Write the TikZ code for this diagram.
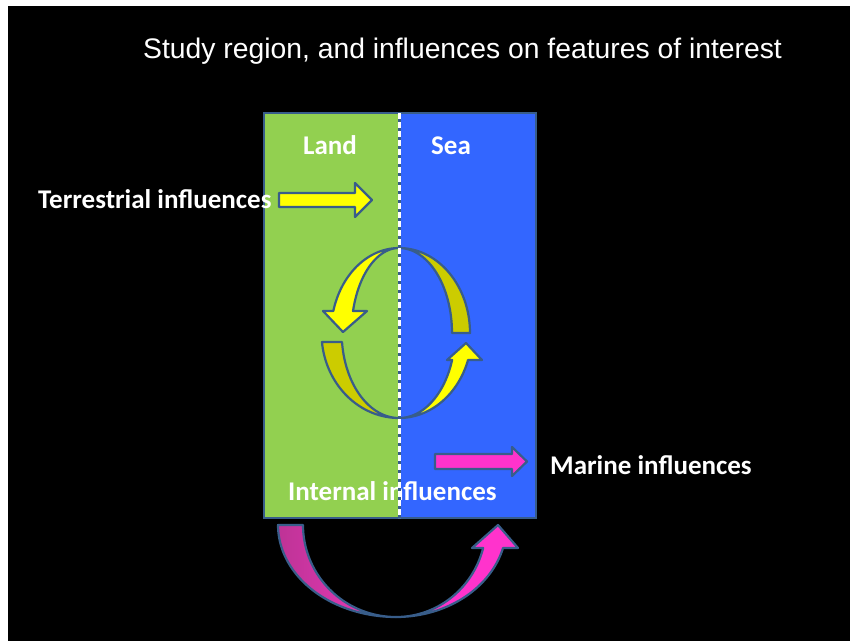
\documentclass[tikz,border=0pt]{standalone}
\usepackage{fontspec}
\setmainfont{Liberation Sans}
\newfontfamily\calfont{Carlito}
\definecolor{landgreen}{HTML}{92D050}
\definecolor{seablue}{HTML}{3366FF}
\definecolor{outl}{HTML}{385D8A}
\definecolor{yel}{HTML}{FFFF00}
\definecolor{darkyel}{HTML}{CCCC00}
\definecolor{mag}{HTML}{FF33CC}
\definecolor{magdark}{HTML}{BE3396}
\definecolor{magmid}{HTML}{EE3ABE}
\begin{document}
\begin{tikzpicture}[x=1pt,y=-1pt,
  shapeline/.style={draw=outl, line width=2.2pt, line join=round},
  frontyel/.style={shapeline, fill=yel},
  backyel/.style={shapeline, fill=darkyel},
  lbl/.style={anchor=base west, inner sep=0pt, text=white, font=\calfont\bfseries\fontsize{27}{32}\selectfont},
  titletext/.style={anchor=base west, inner sep=0pt, text=white, font=\fontsize{28.3}{34}\selectfont}]
\useasboundingbox (0,0) rectangle (850,641);
% background
\fill[white] (0,0) rectangle (850,641);
\fill[black] (8,6) rectangle (850,641);
% title
\node[titletext] (title) at (143,58) {Study region, and influences on features of interest};
% study region
\fill[landgreen] (264,113) rectangle (399,518);
\fill[seablue] (399,113) rectangle (536,518);
\draw[draw=outl, line width=1.5pt] (264,113) rectangle (536,518);
\coordinate (divtop) at (399,113);
\coordinate (divbot) at (399,518);
% labels
\node[lbl] (land) at (303,154) {Land};
\node[lbl] (sea) at (431,154) {Sea};
\node[lbl] (terr) at (38,208) {Terrestrial influences};
\node[lbl] (marine) at (550,474) {Marine influences};
\node[lbl] (internal) at (288,500) {Internal influences};
% terrestrial arrow
\filldraw[frontyel] (279,193) -- (355,193) -- (355,183) -- (372,200) -- (355,217) -- (355,207) -- (279,207) -- cycle;
% marine arrow
\filldraw[shapeline, fill=mag] (435,454) -- (512,454) -- (512,447) -- (527,461.5) -- (512,476) -- (512,469) -- (435,469) -- cycle;
% circular arrows: upper shape
\filldraw[backyel] plot[domain=-90:0,samples=40] ({399+71*cos(\x)},{333+85*sin(\x)})
   -- plot[domain=0:-90,samples=40] ({399+53*cos(\x)},{333+85*sin(\x)}) -- cycle;
\filldraw[frontyel] plot[domain=-90:-165,samples=40] ({399+68*cos(\x)},{333+85*sin(\x)})
   -- (323,311) -- (343,332) -- (367,311)
   -- plot[domain=-165:-90,samples=40] ({399+47.6*cos(\x)},{333+85*sin(\x)}) -- cycle;
% circular arrows: lower shape
\filldraw[backyel] plot[domain=90:173.9,samples=40] ({399+77.5*cos(\x)},{333+85*sin(\x)})
   -- plot[domain=173.9:90,samples=40] ({399+57.3*cos(\x)},{333+85*sin(\x)}) -- cycle;
\filldraw[frontyel] plot[domain=90:18.5,samples=40] ({399+72.8*cos(\x)},{333+85*sin(\x)})
   -- (482,360) -- (466,343) -- (447,360)
   -- plot[domain=18.5:90,samples=40] ({399+56*cos(\x)},{333+85*sin(\x)}) -- cycle;
% internal influences curved arrow (below the box)
\path[shapeline, left color=magdark, right color=magmid]
   plot[domain=180:90,samples=50] ({396+118*cos(\x)},{525+92*sin(\x)})
   -- plot[domain=90:180,samples=50] ({396+93*cos(\x)},{525+92*sin(\x)}) -- cycle;
\filldraw[shapeline, fill=mag] plot[domain=90:14.48,samples=50] ({396+110.5*cos(\x)},{525+92*sin(\x)})
   -- (518,548) -- (498,525) -- (472,548)
   -- plot[domain=14.48:90,samples=50] ({396+90*cos(\x)},{525+92*sin(\x)}) -- cycle;
% land/sea divider
\draw[outl, line width=3pt] (divtop) -- (divbot);
\draw[white, line width=3pt, dash pattern=on 6pt off 3pt] (divtop) -- (divbot);
\end{tikzpicture}
\end{document}
